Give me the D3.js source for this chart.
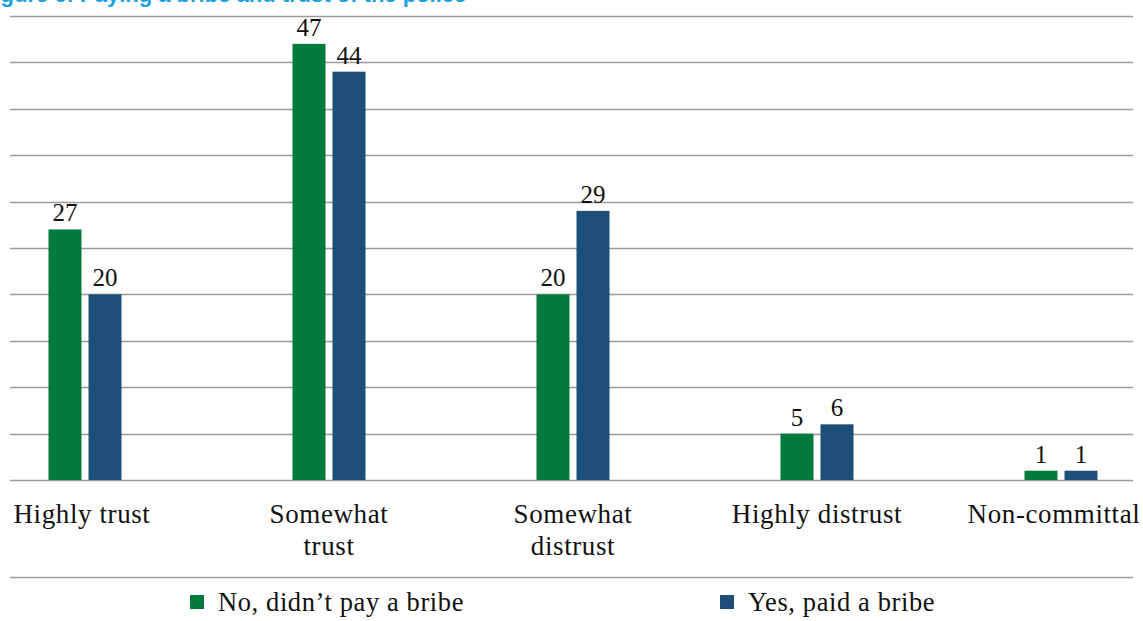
<!DOCTYPE html>
<html><head><meta charset="utf-8">
<script src="https://cdn.jsdelivr.net/npm/d3@7"></script>
<style>body{margin:0;background:#fff}svg{display:block}</style>
</head><body>
<svg id="c" width="1143" height="621"></svg>
<script>
const categories = [["Highly trust"], ["Somewhat", "trust"], ["Somewhat", "distrust"], ["Highly distrust"], ["Non-committal"]];
const seriesNames = ["No, didn't pay a bribe", "Yes, paid a bribe"];
const noBribe = [27, 47, 20, 5, 1];
const yesBribe = [20, 44, 29, 6, 1];
const colors = ["#017a3e", "#1d4e78"];
const yTicks = [0, 5, 10, 15, 20, 25, 30, 35, 40, 45, 50];
const title = "Figure 6: Paying a bribe and trust of the police";

const svg = d3.select("#c");
const serif = "'Liberation Serif','Times New Roman',serif";
const keys = categories.map(c => c.join(" "));
const x0 = d3.scaleBand().domain(keys).range([-37, 1183]);
const x1 = d3.scaleBand().domain(seriesNames).range([-36.5, 36.5]).paddingInner(0.175);
const y = d3.scaleLinear().domain([0, 50]).range([480, 16]);

// title (cropped at top edge, as in the reference)
svg.append("text").attr("x", -19).attr("y", 1.5)
  .attr("font-family", "'Liberation Sans',Arial,sans-serif").attr("font-weight", "bold")
  .attr("font-size", 22).attr("fill", "#1ba1e2").text(title);

// gridlines
svg.append("g").selectAll("line").data(yTicks).join("line")
  .attr("x1", 10).attr("x2", 1133)
  .attr("y1", d => Math.round(y(d)) + 0.5).attr("y2", d => Math.round(y(d)) + 0.5)
  .attr("stroke", "#9a9a9a").attr("stroke-width", 1.5);

const data = keys.map((k, i) => ({k, vals: [noBribe[i], yesBribe[i]]}));
const g = svg.append("g").selectAll("g").data(data).join("g")
  .attr("transform", d => `translate(${x0(d.k) + x0.bandwidth() / 2},0)`);
g.selectAll("rect").data(d => d.vals.map((v, j) => ({v, s: seriesNames[j], j}))).join("rect")
  .attr("x", d => x1(d.s)).attr("width", x1.bandwidth())
  .attr("y", d => y(d.v)).attr("height", d => y(0) - y(d.v))
  .attr("fill", d => colors[d.j]);
g.selectAll("text.v").data(d => d.vals.map((v, j) => ({v, s: seriesNames[j]}))).join("text")
  .attr("class", "v").attr("x", d => x1(d.s) + x1.bandwidth() / 2).attr("y", d => y(d.v) - 8)
  .attr("text-anchor", "middle").attr("font-family", serif).attr("font-size", 25).attr("fill", "#111")
  .text(d => d.v);

// category labels
const labOffsets = [-3, 0, 0, 0, -7];
svg.append("g").selectAll("text").data(categories).join("text")
  .attr("x", (d, i) => x0(keys[i]) + x0.bandwidth() / 2 + labOffsets[i])
  .attr("y", 523).attr("text-anchor", "middle")
  .attr("font-family", serif).attr("font-size", 27).attr("letter-spacing", 0.6).attr("fill", "#111")
  .each(function(d) {
    const t = d3.select(this);
    d.forEach((line, li) => t.append("tspan").attr("x", t.attr("x")).attr("dy", li ? 32 : 0).text(line));
  });

// separator line
svg.append("line").attr("x1", 10).attr("x2", 1133).attr("y1", 577.5).attr("y2", 577.5)
  .attr("stroke", "#9a9a9a").attr("stroke-width", 1.5);

// legend
const legX = [190, 720];
const leg = svg.append("g").selectAll("g").data(seriesNames).join("g")
  .attr("transform", (d, i) => `translate(${legX[i]},595)`);
leg.append("rect").attr("width", 14).attr("height", 14).attr("fill", (d, i) => colors[i]);
leg.append("text").attr("x", 28).attr("y", 16).attr("font-family", serif).attr("font-size", 26.5)
  .attr("letter-spacing", 0.6).attr("fill", "#111").text(d => d.replace("'", "\u2019"));
</script>
</body></html>
